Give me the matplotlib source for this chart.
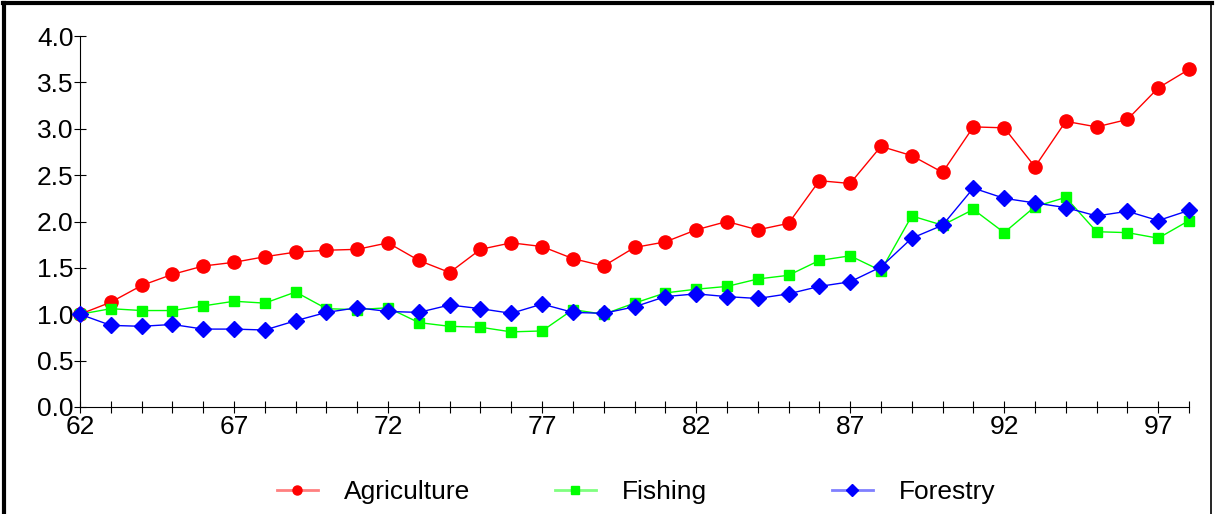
import matplotlib
matplotlib.use("Agg")
import matplotlib.pyplot as plt
from matplotlib.lines import Line2D
from matplotlib.legend_handler import HandlerTuple

plt.rcParams["font.family"] = ["Liberation Sans", "DejaVu Sans"]
plt.rcParams["font.size"] = 19

# years 62..98
years = list(range(62, 99))

agriculture = [1.00, 1.13, 1.31, 1.43, 1.52, 1.56, 1.62, 1.67, 1.69, 1.70,
               1.77, 1.58, 1.45, 1.70, 1.77, 1.73, 1.60, 1.52, 1.72, 1.78,
               1.91, 2.00, 1.91, 1.98, 2.44, 2.41, 2.81, 2.71, 2.53, 3.02,
               3.01, 2.59, 3.08, 3.02, 3.10, 3.44, 3.64]
fishing = [1.00, 1.06, 1.04, 1.04, 1.09, 1.14, 1.12, 1.24, 1.06, 1.05,
           1.07, 0.91, 0.87, 0.86, 0.81, 0.82, 1.05, 1.00, 1.12, 1.23,
           1.27, 1.30, 1.38, 1.42, 1.58, 1.63, 1.47, 2.06, 1.96, 2.13,
           1.88, 2.16, 2.26, 1.89, 1.88, 1.82, 2.01]
forestry = [1.00, 0.88, 0.87, 0.89, 0.84, 0.84, 0.83, 0.93, 1.02, 1.07,
            1.03, 1.02, 1.10, 1.06, 1.01, 1.11, 1.02, 1.01, 1.08, 1.19,
            1.22, 1.19, 1.17, 1.22, 1.30, 1.35, 1.51, 1.82, 1.96, 2.36,
            2.25, 2.20, 2.15, 2.06, 2.11, 2.01, 2.12]

x_labels = [62, 67, 72, 77, 82, 87, 92, 97]
y_ticks = [0.0, 0.5, 1.0, 1.5, 2.0, 2.5, 3.0, 3.5, 4.0]

series = [
    ('Agriculture', agriculture, '#FF0000', '#FF8080', 'o', 9.5, 6.5),
    ('Fishing', fishing, '#00FF00', '#80FF80', 's', 7.5, 5.5),
    ('Forestry', forestry, '#0000FF', '#8080FF', 'D', 8, 6),
]
# legend entries sit in fixed-width slots (left edge of each handle, px)
legend_x = [277, 555, 832]

fig = plt.figure(figsize=(12.16, 5.14), dpi=100)
ax = fig.add_axes([80 / 1216, 1 - 407 / 514, (1189 - 80) / 1216, (407 - 36) / 514])

for z, (name, vals, col, light, mk, ms, lms) in enumerate(series):
    ax.plot(years, vals, color=col, marker=mk, markersize=ms,
            linewidth=1, clip_on=False, zorder=3 + z)
    h_line = Line2D([], [], color=light, linewidth=2)
    h_mark = Line2D([], [], color=col, marker=mk, markersize=lms, linestyle='none')
    fig.legend([(h_line, h_mark)], [name], handler_map={tuple: HandlerTuple(ndivide=1)},
               loc='center left', bbox_to_anchor=(legend_x[z] / 1216, 1 - 492 / 514),
               frameon=False, handlelength=1.55, handletextpad=1.0,
               borderpad=0, borderaxespad=0, fontsize=19)

ax.set_xlim(62, 98)
ax.set_ylim(0, 4)
ax.set_xticks(years, minor=True)
ax.set_xticks(x_labels)
ax.set_xticklabels([str(v) for v in x_labels])
ax.set_yticks(y_ticks)
ax.set_yticklabels(['%.1f' % v for v in y_ticks])
ax.tick_params(axis='x', which='both', direction='inout', length=8, width=0.8, pad=2)
ax.tick_params(axis='y', direction='inout', length=9, width=0.8, pad=0)
ax.spines['top'].set_visible(False)
ax.spines['right'].set_visible(False)
ax.spines['left'].set_linewidth(0.8)
ax.spines['bottom'].set_linewidth(0.8)

# figure frame
fig.add_artist(Line2D([4 / 1216, 4 / 1216], [0, 1 - 3 / 514], transform=fig.transFigure,
                      color='black', linewidth=3))
fig.add_artist(Line2D([3 / 1216, 1212 / 1216], [1 - 3 / 514, 1 - 3 / 514],
                      transform=fig.transFigure, color='black', linewidth=3))
fig.add_artist(Line2D([1211 / 1216, 1211 / 1216], [0, 1 - 3 / 514], transform=fig.transFigure,
                      color='black', linewidth=1.2))

fig.savefig('out.png', dpi=100)
